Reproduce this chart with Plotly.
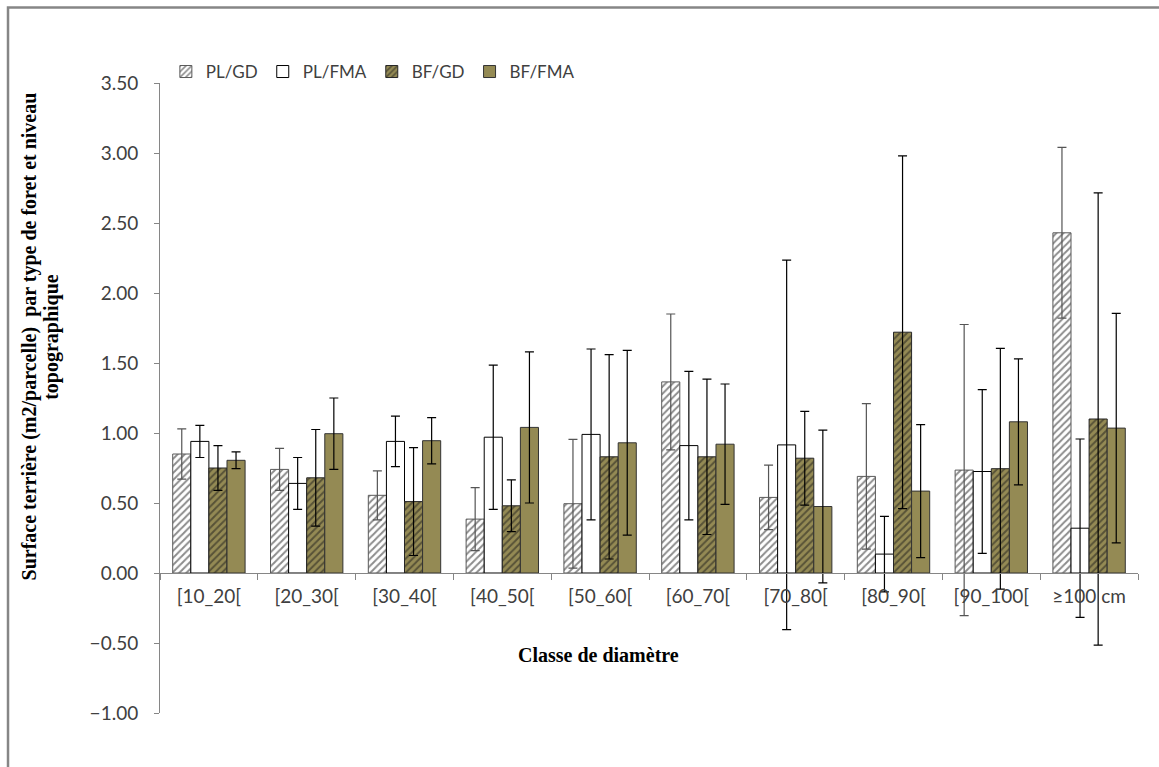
import plotly.graph_objects as go

# Diameter classes
classes = ["[10_20[", "[20_30[", "[30_40[", "[40_50[", "[50_60[",
           "[60_70[", "[70_80[", "[80_90[", "[90_100[", "≥100 cm"]

# Basal area (m2/plot) per forest type / topographic level
pl_gd = [0.85, 0.74, 0.555, 0.385, 0.495, 1.365, 0.54, 0.69, 0.735, 2.43]
pl_fma = [0.94, 0.64, 0.94, 0.97, 0.99, 0.91, 0.915, 0.135, 0.725, 0.32]
bf_gd = [0.75, 0.68, 0.51, 0.48, 0.83, 0.83, 0.82, 1.72, 0.745, 1.10]
bf_fma = [0.805, 0.995, 0.945, 1.04, 0.93, 0.92, 0.475, 0.585, 1.08, 1.035]

# Error bar half-widths
pl_gd_err = [0.18, 0.15, 0.175, 0.225, 0.46, 0.485, 0.23, 0.52, 1.04, 0.61]
pl_fma_err = [0.115, 0.185, 0.18, 0.515, 0.61, 0.53, 1.32, 0.27, 0.585, 0.637]
bf_gd_err = [0.16, 0.345, 0.385, 0.185, 0.73, 0.555, 0.335, 1.26, 0.86, 1.615]
bf_fma_err = [0.06, 0.255, 0.165, 0.54, 0.66, 0.43, 0.545, 0.475, 0.45, 0.82]

OLIVE = "#948A54"
AXIS = "#868686"
TICK_FONT = dict(family="Lato, Calibri, sans-serif", size=19, color="#404040")
TITLE_FONT = dict(family="Liberation Serif, Times New Roman, serif", size=20, color="#000000")

series = [
    ("PL/GD", pl_gd, pl_gd_err, "white", "/", "#1a1a1a", "#595959", "#555555"),
    ("PL/FMA", pl_fma, pl_fma_err, "white", "", None, "#000000", "#000000"),
    ("BF/GD", bf_gd, bf_gd_err, OLIVE, "/", "#1a1a1a", "#262626", "#000000"),
    ("BF/FMA", bf_fma, bf_fma_err, OLIVE, "", None, "#333333", "#000000"),
]

fig = go.Figure()
for name, vals, errs, bg, shape, fg, line_col, err_col in series:
    pattern = dict(shape=shape)
    if shape:
        pattern.update(fgcolor=fg, bgcolor=bg, size=5, solidity=0.4, fillmode="overlay")
    fig.add_trace(go.Bar(
        name=name, x=classes, y=vals,
        marker=dict(color=bg, line=dict(color=line_col, width=1), pattern=pattern),
        error_y=dict(type="data", array=errs, visible=True,
                     color=err_col, thickness=1.2, width=4.5),
    ))

ymin, ymax = -1.0, 3.5
zero_pos = (0 - ymin) / (ymax - ymin)

fig.update_layout(
    width=1159, height=767,
    margin=dict(l=160, r=21, t=83, b=54),
    paper_bgcolor="white", plot_bgcolor="white",
    barmode="group", bargap=0.26, bargroupgap=0,
    showlegend=True,
    legend=dict(orientation="h", x=0.006, y=1.0175, xanchor="left", yanchor="middle",
                font=dict(TICK_FONT, size=17), itemwidth=30, bgcolor="rgba(0,0,0,0)",
                traceorder="normal"),
    xaxis=dict(
        anchor="free", position=zero_pos,
        showline=True, linecolor=AXIS, linewidth=1,
        ticks="outside", tickson="boundaries", ticklen=6, tickcolor=AXIS,
        tickfont=TICK_FONT, showgrid=False, zeroline=False,
        ticklabelstandoff=6,
    ),
    yaxis=dict(
        range=[ymin, ymax], dtick=0.5, tick0=0, tickformat=".2f",
        showline=True, linecolor=AXIS, linewidth=1,
        ticks="outside", ticklen=5, tickcolor=AXIS,
        tickfont=TICK_FONT, showgrid=False, zeroline=False,
        ticklabelstandoff=12,
    ),
)

# Y-axis title, two rotated lines
fig.add_annotation(
    text="<b>Surface terrière (m2/parcelle)  par type de foret et niveau</b>",
    textangle=-90, xref="paper", yref="y", x=-0.1339, y=1.69,
    xanchor="center", yanchor="middle",
    showarrow=False, font=TITLE_FONT,
)
fig.add_annotation(
    text="<b>topographique</b>",
    textangle=-90, xref="paper", yref="y", x=-0.1110, y=1.69,
    xanchor="center", yanchor="middle",
    showarrow=False, font=TITLE_FONT,
)
# X-axis title
fig.add_annotation(
    text="<b>Classe de diamètre</b>", xref="paper", yref="y",
    x=0.448, y=-0.585, xanchor="center", yanchor="middle",
    showarrow=False, font=TITLE_FONT,
)

# Chart-area frame (top and left edges)
fig.add_shape(type="rect", xref="paper", yref="paper",
              x0=-0.1554, x1=1.05, y0=-0.2, y1=1.1198,
              line=dict(color=AXIS, width=2.5), fillcolor="rgba(0,0,0,0)",
              layer="above")

fig.write_html("out.html")
